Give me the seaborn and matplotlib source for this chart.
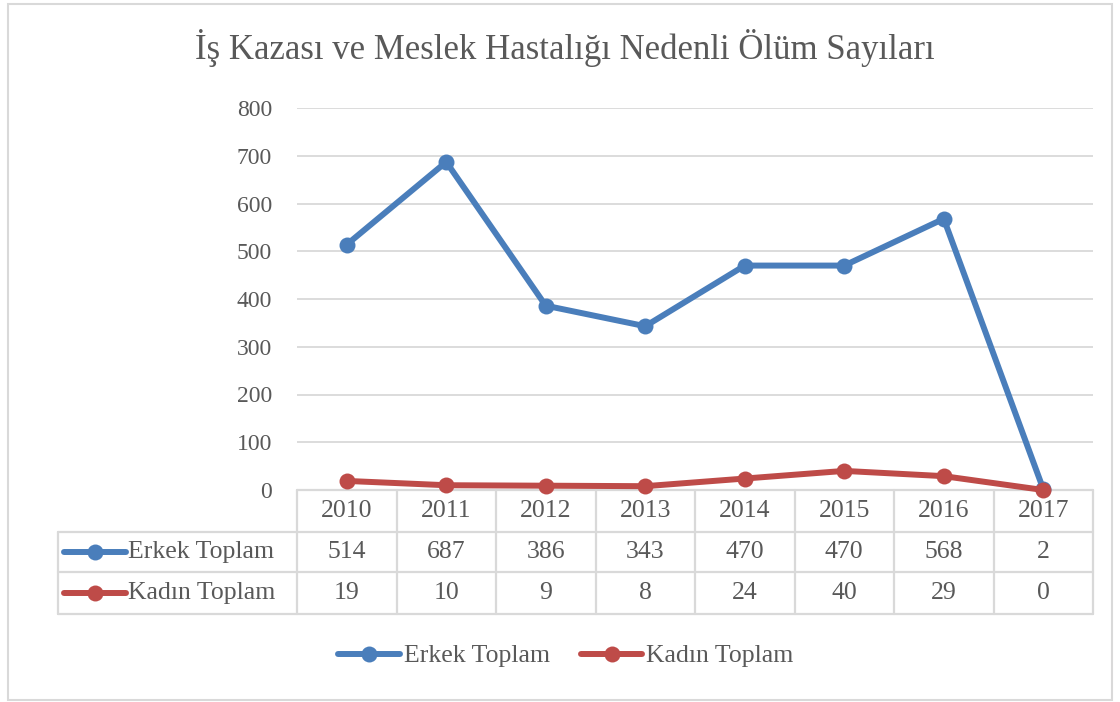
import matplotlib
matplotlib.use("Agg")
import matplotlib.pyplot as plt
import matplotlib.transforms as mtransforms
from matplotlib.lines import Line2D
from matplotlib.patches import Rectangle
import seaborn as sns
import pandas as pd

years = [2010, 2011, 2012, 2013, 2014, 2015, 2016, 2017]
erkek = [514, 687, 386, 343, 470, 470, 568, 2]
kadin = [19, 10, 9, 8, 24, 40, 29, 0]
series_names = ["Erkek Toplam", "Kadın Toplam"]
title = "İş Kazası ve Meslek Hastalığı Nedenli Ölüm Sayıları"
yticks = [0, 100, 200, 300, 400, 500, 600, 700, 800]

colors = ["#4A7EBB", "#BE4B48"]
txt = "#595959"
grid_c = "#D9D9D9"

sns.set_theme(style="white")
plt.rcParams["font.family"] = ["Liberation Serif", "DejaVu Serif"]

df = pd.DataFrame({
    "year": years * 2,
    "value": erkek + kadin,
    "series": [series_names[0]] * len(years) + [series_names[1]] * len(years),
})

W, H = 1120, 702
fig = plt.figure(figsize=(W / 100, H / 100), dpi=100)

# plot area in pixels
L, R, T, B = 297, 1093, 108, 490
ax = fig.add_axes([L / W, 1 - B / H, (R - L) / W, (B - T) / H])

lwid = 4.3
msz = 11.5
sns.lineplot(data=df, x="year", y="value", hue="series", palette=colors,
             marker="o", markersize=msz, markeredgewidth=0, linewidth=lwid,
             ax=ax, legend=False, zorder=3, clip_on=False)

ax.set_xlim(years[0] - 0.5, years[-1] + 0.5)
ax.set_ylim(0, 800)
ax.set_yticks(yticks)
ax.set_xticks([])
ax.set_xlabel("")
ax.set_ylabel("")
ax.tick_params(axis="y", length=0, pad=18, labelsize=17, labelcolor=txt)
for s in ax.spines.values():
    s.set_visible(False)
ax.yaxis.grid(True, color=grid_c, linewidth=1.3)
ax.set_axisbelow(True)

# data table below the plot
def py(p):
    return (B - p) / (B - T)

def px(p):
    return (p - L) / (R - L)

blend = mtransforms.blended_transform_factory(ax.transData, ax.transAxes)
rows = [490, 532, 572, 614]
left_lbl = 58
lw = 1.6
kw = dict(color=grid_c, linewidth=lw, transform=ax.transAxes, clip_on=False)
ax.add_line(Line2D([0, 1], [py(rows[0])] * 2, **kw))
for r in rows[1:]:
    ax.add_line(Line2D([px(left_lbl), 1], [py(r)] * 2, **kw))
ax.add_line(Line2D([px(left_lbl)] * 2, [py(rows[1]), py(rows[3])], **kw))
for i in range(len(years) + 1):
    xb = (years[0] - 0.5) + i
    ax.add_line(Line2D([xb, xb], [py(rows[0]), py(rows[3])], color=grid_c,
                       linewidth=lw, transform=blend, clip_on=False))

fs = 18.5
for i, yr in enumerate(years):
    ax.text(yr, py((rows[0] + rows[1]) / 2), str(yr), transform=blend,
            ha="center", va="center", fontsize=fs, color=txt)
    ax.text(yr, py((rows[1] + rows[2]) / 2), str(erkek[i]), transform=blend,
            ha="center", va="center", fontsize=fs, color=txt)
    ax.text(yr, py((rows[2] + rows[3]) / 2), str(kadin[i]), transform=blend,
            ha="center", va="center", fontsize=fs, color=txt)

for k, name in enumerate(series_names):
    yc = py((rows[k + 1] + rows[k + 2]) / 2)
    ax.add_line(Line2D([px(64), px(126)], [yc, yc], color=colors[k], linewidth=lwid,
                       transform=ax.transAxes, clip_on=False))
    ax.add_line(Line2D([px(95)], [yc], color=colors[k], marker="o", markersize=msz,
                       markeredgewidth=0, transform=ax.transAxes, clip_on=False))
    ax.text(px(128), yc, name, transform=ax.transAxes, ha="left", va="center",
            fontsize=fs, color=txt)

# title
fig.text(565 / W, 1 - 48 / H, title, ha="center", va="center", fontsize=25, color=txt)

# bottom legend
handles = [Line2D([], [], color=c, linewidth=lwid, marker="o", markersize=msz,
                  markeredgewidth=0) for c in colors]
fig.legend(handles, series_names, loc="center", bbox_to_anchor=(566 / W, 1 - 656 / H),
           ncol=2, frameon=False, fontsize=fs, labelcolor=txt, handlelength=2.4,
           handletextpad=0.15, columnspacing=1.2)

# outer chart border
fig.patches.append(Rectangle((8 / W, 2 / H), (1112 - 8) / W, (700 - 4) / H,
                             transform=fig.transFigure, fill=False,
                             edgecolor=grid_c, linewidth=1.5))

fig.savefig("out.png", dpi=100)
